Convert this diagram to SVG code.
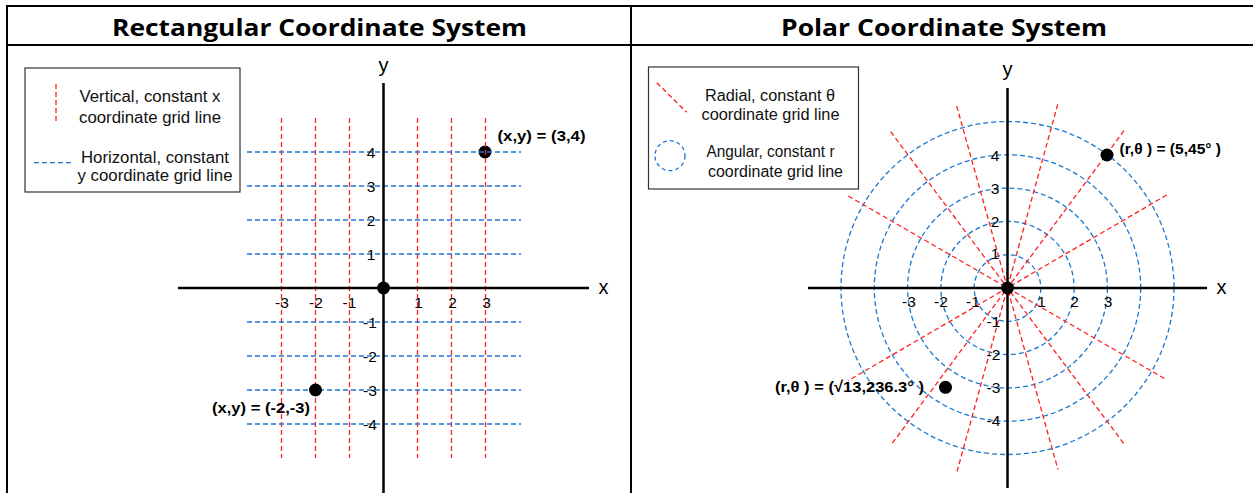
<svg xmlns="http://www.w3.org/2000/svg" width="1253" height="493" viewBox="0 0 1253 493">
<style>
.frame{stroke:#000;stroke-width:2;fill:none}
.head{font-family:"Open Sans","Liberation Sans",Arial,sans-serif;font-weight:bold;font-size:24px;fill:#000;text-anchor:middle}
.axis{stroke:#000;stroke-width:2.5;fill:none}
.red{stroke:#ff1f1f;stroke-width:1.3;stroke-dasharray:5 3;fill:none}
.blue{stroke:#1a78d2;stroke-width:1.3;stroke-dasharray:5 3;fill:none}
.tick{font-family:"Liberation Sans",Arial,sans-serif;font-size:15.5px;fill:#000;text-anchor:middle}
.axlbl{font-family:"Liberation Sans",Arial,sans-serif;font-size:20px;fill:#000;text-anchor:middle}
.leg{font-family:"Liberation Sans",Arial,sans-serif;font-size:16px;fill:#111;text-anchor:middle}
.legbox{fill:#fff;stroke:#333;stroke-width:1.2}
.pt{font-family:"Liberation Sans",Arial,sans-serif;font-weight:bold;font-size:15.5px;fill:#000}
.dot{fill:#000}
</style>
<rect width="1253" height="493" fill="#fff"/>
<g id="table">
<line class="frame" x1="7" y1="6" x2="1253" y2="6"/>
<line class="frame" x1="7" y1="45" x2="1253" y2="45"/>
<line class="frame" x1="7" y1="5" x2="7" y2="493"/>
<line class="frame" x1="631" y1="5" x2="631" y2="493"/>
<text class="head" x="319.5" y="36" textLength="415" lengthAdjust="spacingAndGlyphs">Rectangular Coordinate System</text>
<text class="head" x="944" y="36" textLength="326" lengthAdjust="spacingAndGlyphs">Polar Coordinate System</text>
</g>
<g id="rect-point-3-4"><circle class="dot" cx="485" cy="152" r="6.5"/></g>
<g id="rect-grid">
<line class="red" x1="281.5" y1="118" x2="281.5" y2="458"/>
<line class="red" x1="315.5" y1="118" x2="315.5" y2="458"/>
<line class="red" x1="349.5" y1="118" x2="349.5" y2="458"/>
<line class="red" x1="417.5" y1="118" x2="417.5" y2="458"/>
<line class="red" x1="451.5" y1="118" x2="451.5" y2="458"/>
<line class="red" x1="485.5" y1="118" x2="485.5" y2="458"/>
<line class="blue" x1="247" y1="152" x2="521" y2="152"/>
<line class="blue" x1="247" y1="186" x2="521" y2="186"/>
<line class="blue" x1="247" y1="220" x2="521" y2="220"/>
<line class="blue" x1="247" y1="254" x2="521" y2="254"/>
<line class="blue" x1="247" y1="322" x2="521" y2="322"/>
<line class="blue" x1="247" y1="356" x2="521" y2="356"/>
<line class="blue" x1="247" y1="390" x2="521" y2="390"/>
<line class="blue" x1="247" y1="424" x2="521" y2="424"/>
</g>
<g id="rect-axes">
<line class="axis" x1="178" y1="288" x2="589" y2="288"/>
<line class="axis" x1="383.5" y1="83" x2="383.5" y2="493"/>
<text class="axlbl" x="603.5" y="293.5">x</text>
<text class="axlbl" x="383.5" y="72">y</text>
<text class="tick" x="282" y="308">-3</text>
<text class="tick" x="316" y="308">-2</text>
<text class="tick" x="349.5" y="308">-1</text>
<text class="tick" x="418.5" y="308">1</text>
<text class="tick" x="452.5" y="308">2</text>
<text class="tick" x="486.5" y="308">3</text>
<text class="tick" x="371" y="157.5">4</text>
<text class="tick" x="371" y="191.5">3</text>
<text class="tick" x="371" y="225.5">2</text>
<text class="tick" x="371" y="259.5">1</text>
<text class="tick" x="370" y="327.5">-1</text>
<text class="tick" x="370" y="361.5">-2</text>
<text class="tick" x="370" y="395.5">-3</text>
<text class="tick" x="370" y="429.5">-4</text>
</g>
<g id="rect-points">
<circle class="dot" cx="383.5" cy="288" r="6.5"/>
<circle class="dot" cx="315.5" cy="390" r="6.5"/>
<text class="pt" x="497.5" y="140.5" textLength="88" lengthAdjust="spacingAndGlyphs">(x,y) = (3,4)</text>
<text class="pt" x="212" y="413" textLength="98" lengthAdjust="spacingAndGlyphs">(x,y) = (-2,-3)</text>
</g>
<g id="rect-legend">
<rect class="legbox" x="25" y="68" width="215" height="124"/>
<line class="red" x1="56" y1="84" x2="56" y2="122"/>
<text class="leg" x="150" y="102" textLength="141" lengthAdjust="spacingAndGlyphs">Vertical, constant x</text>
<text class="leg" x="150" y="122.5" textLength="142" lengthAdjust="spacingAndGlyphs">coordinate grid line</text>
<line class="blue" x1="34" y1="162.7" x2="73" y2="162.7"/>
<text class="leg" x="155" y="162.5" textLength="148" lengthAdjust="spacingAndGlyphs">Horizontal, constant</text>
<text class="leg" x="155" y="180.5" textLength="155" lengthAdjust="spacingAndGlyphs">y coordinate grid line</text>
</g>
<g id="polar-grid">
<circle class="blue" cx="1007.5" cy="288" r="33.3"/>
<circle class="blue" cx="1007.5" cy="288" r="66.6"/>
<circle class="blue" cx="1007.5" cy="288" r="99.9"/>
<circle class="blue" cx="1007.5" cy="288" r="133.2"/>
<circle class="blue" cx="1007.5" cy="288" r="166.5"/>
<line class="red" x1="1166.7" y1="195" x2="848.1" y2="380.7"/>
<line class="red" x1="1124" y1="130.7" x2="891" y2="445"/>
<line class="red" x1="1057.7" y1="104.3" x2="957.1" y2="471.4"/>
<line class="red" x1="956.7" y1="106" x2="1058" y2="469.7"/>
<line class="red" x1="890.7" y1="131.7" x2="1124.1" y2="444"/>
<line class="red" x1="848.3" y1="196" x2="1166.5" y2="379.7"/>
</g>
<g id="polar-axes">
<line class="axis" x1="808" y1="288" x2="1207" y2="288"/>
<line class="axis" x1="1007.5" y1="88" x2="1007.5" y2="488"/>
<text class="axlbl" x="1221.5" y="294">x</text>
<text class="axlbl" x="1007.5" y="75.5">y</text>
<text class="tick" x="909" y="307">-3</text>
<text class="tick" x="941" y="307">-2</text>
<text class="tick" x="973" y="307">-1</text>
<text class="tick" x="1041.5" y="307">1</text>
<text class="tick" x="1074.5" y="307">2</text>
<text class="tick" x="1108" y="307">3</text>
<text class="tick" x="995" y="160.5">4</text>
<text class="tick" x="995" y="193.5">3</text>
<text class="tick" x="995" y="227">2</text>
<text class="tick" x="995" y="259">1</text>
<text class="tick" x="993.5" y="327">-1</text>
<text class="tick" x="993.5" y="360">-2</text>
<text class="tick" x="993.5" y="393">-3</text>
<text class="tick" x="993.5" y="426">-4</text>
</g>
<g id="polar-points">
<circle class="dot" cx="1007.5" cy="288" r="6.5"/>
<circle class="dot" cx="1107" cy="155" r="6.5"/>
<circle class="dot" cx="945.5" cy="387.3" r="6.5"/>
<text class="pt" x="1119.5" y="154" textLength="101.5" lengthAdjust="spacingAndGlyphs">(r,θ ) = (5,45° )</text>
<text class="pt" x="775" y="392" textLength="149" lengthAdjust="spacingAndGlyphs">(r,θ ) = (√13,236.3° )</text>
</g>
<g id="polar-legend">
<rect class="legbox" x="648.5" y="67" width="210" height="122"/>
<line class="red" x1="656.7" y1="82.7" x2="686.7" y2="112.3"/>
<text class="leg" x="770" y="100.7" textLength="130" lengthAdjust="spacingAndGlyphs">Radial, constant θ</text>
<text class="leg" x="770.5" y="120" textLength="138" lengthAdjust="spacingAndGlyphs">coordinate grid line</text>
<circle class="blue" cx="670" cy="155.7" r="15" style="stroke-dasharray:4 3"/>
<text class="leg" x="770.5" y="156.7" textLength="128" lengthAdjust="spacingAndGlyphs">Angular, constant r</text>
<text class="leg" x="775.5" y="176.7" textLength="135" lengthAdjust="spacingAndGlyphs">coordinate grid line</text>
</g>
</svg>
